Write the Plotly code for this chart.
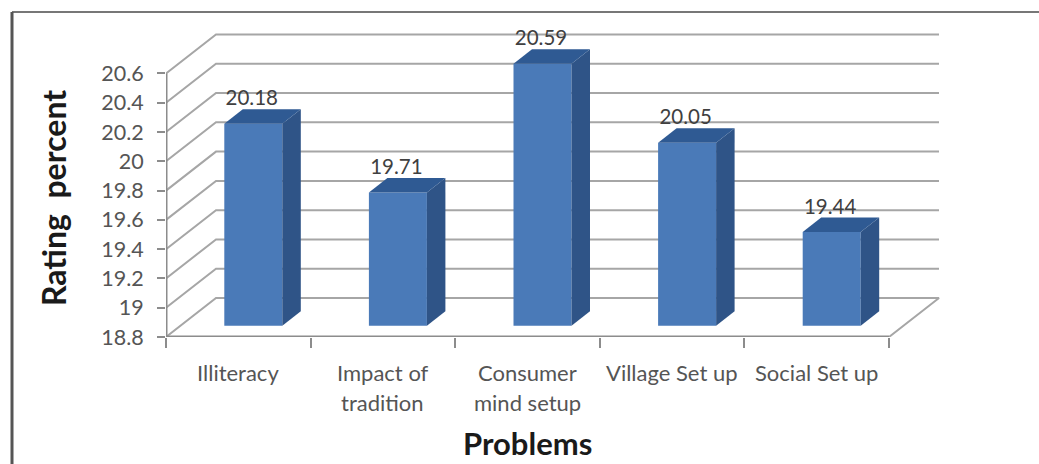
import plotly.graph_objects as go

# Chart data
categories = ["Illiteracy", "Impact of<br>tradition", "Consumer<br>mind setup", "Village Set up", "Social Set up"]
ratings = [20.18, 19.71, 20.59, 20.05, 19.44]
y_ticks = [18.8, 19, 19.2, 19.4, 19.6, 19.8, 20, 20.2, 20.4, 20.6]
y_tick_labels = ["18.8", "19", "19.2", "19.4", "19.6", "19.8", "20", "20.2", "20.4", "20.6"]
x_title = "Problems"
y_title = "Rating  percent"

# Plot box in pixels: wide enough to hold the projected walls and the labels
WIDTH, HEIGHT = 1039, 464
LEFT, RIGHT, TOP, BOTTOM = 166, 945, 22, 337
SLOTS = len(categories)
BASE = 18.8
PX_PER_SLOT = 144.6
PX_PER_UNIT = 146.4
X_MAX = (RIGHT - LEFT) / PX_PER_SLOT
Y_MAX = BASE + (BOTTOM - TOP) / PX_PER_UNIT

# Oblique projection of the box and of each bar, in axis units
WALL_DX, WALL_DY = 50 / PX_PER_SLOT, 39 / PX_PER_UNIT
BAR_SHIFT_X, BAR_SHIFT_Y = 15 / PX_PER_SLOT, 11.3 / PX_PER_UNIT
BAR_DX, BAR_DY = 18.5 / PX_PER_SLOT, 14.5 / PX_PER_UNIT
BAR_WIDTH = 58 / PX_PER_SLOT
LABEL_GAP = 23.5 / PX_PER_UNIT

GRID = "#a6a6a6"
AXIS = "#8c8c8c"
TEXT = "#555555"
TITLE = "#1a1a1a"
FRONT, SIDE, CAP = "#4a7ab8", "#2f5487", "#2f5a93"
FONT = "Lato"


def paper_x(px):
    return (px - LEFT) / (RIGHT - LEFT)


def paper_y(px):
    return (BOTTOM - px) / (BOTTOM - TOP)


fig = go.Figure()

# Side wall and back wall rules; the lowest one also closes the floor
for v in y_ticks:
    if v == BASE:
        xs = [SLOTS, SLOTS + WALL_DX, WALL_DX, 0, SLOTS]
        ys = [v, v + WALL_DY, v + WALL_DY, v, v]
    else:
        xs = [0, WALL_DX, SLOTS + WALL_DX]
        ys = [v, v + WALL_DY, v + WALL_DY]
    fig.add_trace(go.Scatter(
        x=xs, y=ys, mode="lines", line=dict(color=GRID, width=2), hoverinfo="skip",
    ))

# Front floor edge and vertical axis line; half their width falls on the plot edge
fig.add_trace(go.Scatter(
    x=[SLOTS, 0, 0], y=[BASE, BASE, y_ticks[-1]], mode="lines",
    line=dict(color=AXIS, width=3), hoverinfo="skip",
))

# Bar fronts, on an overlay pair of axes offset into the floor
centers = [i + 0.5 for i in range(SLOTS)]
fig.add_trace(go.Bar(
    x=centers, y=[r - BASE for r in ratings], base=[BASE] * SLOTS, width=BAR_WIDTH,
    marker=dict(color=FRONT, line=dict(width=0)),
    xaxis="x2", yaxis="y2", customdata=ratings,
    hovertemplate="%{customdata}<extra></extra>",
))

# Bar side and cap faces, derived from the same values
for c, r in zip(centers, ratings):
    x0, x1 = c - BAR_WIDTH / 2, c + BAR_WIDTH / 2
    fig.add_trace(go.Scatter(
        x=[x1, x1 + BAR_DX, x1 + BAR_DX, x1, x1],
        y=[BASE, BASE + BAR_DY, r + BAR_DY, r, BASE],
        mode="lines", fill="toself", fillcolor=SIDE, line=dict(width=0),
        xaxis="x2", yaxis="y2", hoverinfo="skip",
    ))
    fig.add_trace(go.Scatter(
        x=[x0, x1, x1 + BAR_DX, x0 + BAR_DX, x0],
        y=[r, r, r + BAR_DY, r + BAR_DY, r],
        mode="lines", fill="toself", fillcolor=CAP, line=dict(width=0),
        xaxis="x2", yaxis="y2", hoverinfo="skip",
    ))

# Value labels above each bar
fig.add_trace(go.Scatter(
    x=[c - 1.5 / PX_PER_SLOT for c in centers], y=[r + LABEL_GAP for r in ratings],
    mode="text", text=[f"{r:.2f}" for r in ratings], textposition="middle center",
    textfont=dict(family=FONT, size=20.5, color="#404040"),
    xaxis="x2", yaxis="y2", hoverinfo="skip",
))

# Category labels, one annotation per line for the wide line pitch
annotations = []
for c, label in zip(centers, categories):
    for row, line in enumerate(label.split("<br>")):
        annotations.append(dict(
            x=c, xref="x", y=paper_y(372 + 30 * row), yref="paper", text=line,
            showarrow=False, xanchor="center", yanchor="middle",
            font=dict(family=FONT, size=22, color=TEXT),
        ))

# Axis titles, centred on the front face of the box
annotations.append(dict(
    x=SLOTS / 2, xref="x", y=paper_y(443), yref="paper", text=x_title,
    showarrow=False, xanchor="center", yanchor="middle",
    font=dict(family=FONT, size=31, color=TITLE, weight="bold"),
))
annotations.append(dict(
    x=paper_x(53), xref="paper", y=paper_y(198), yref="paper", text=y_title, textangle=-90,
    showarrow=False, xanchor="center", yanchor="middle",
    font=dict(family=FONT, size=32, color=TITLE, weight="bold"),
))

# Outer chart frame, visible along the top and left edges
frame = dict(type="line", xref="paper", yref="paper", layer="above")
shapes = [
    dict(frame, x0=paper_x(12), x1=paper_x(WIDTH), y0=paper_y(12), y1=paper_y(12),
         line=dict(color="#777777", width=2)),
    dict(frame, x0=paper_x(12), x1=paper_x(12), y0=paper_y(12), y1=paper_y(HEIGHT),
         line=dict(color="#555555", width=3)),
]

fig.update_layout(
    width=WIDTH, height=HEIGHT, autosize=False, showlegend=False,
    margin=dict(l=LEFT, r=WIDTH - RIGHT, t=TOP, b=HEIGHT - BOTTOM),
    paper_bgcolor="white", plot_bgcolor="white",
    font=dict(family=FONT, color=TEXT),
    annotations=annotations, shapes=shapes,
    xaxis=dict(
        range=[0, X_MAX], tickvals=list(range(SLOTS + 1)), ticktext=[""] * (SLOTS + 1),
        ticks="outside", ticklen=10, tickcolor=AXIS, tickwidth=1.5,
        showgrid=False, zeroline=False, showline=False,
    ),
    yaxis=dict(
        range=[BASE, Y_MAX], tickvals=y_ticks, ticktext=y_tick_labels,
        ticks="outside", ticklen=8, tickcolor=AXIS, tickwidth=1.5,
        ticklabelstandoff=9, tickfont=dict(family=FONT, size=21.5, color=TEXT),
        showgrid=False, zeroline=False, showline=False,
    ),
    xaxis2=dict(
        overlaying="x", range=[-BAR_SHIFT_X, X_MAX - BAR_SHIFT_X], visible=False,
    ),
    yaxis2=dict(
        overlaying="y", range=[BASE - BAR_SHIFT_Y, Y_MAX - BAR_SHIFT_Y], visible=False,
    ),
)

fig.write_html("out.html", config=dict(displayModeBar=False))
